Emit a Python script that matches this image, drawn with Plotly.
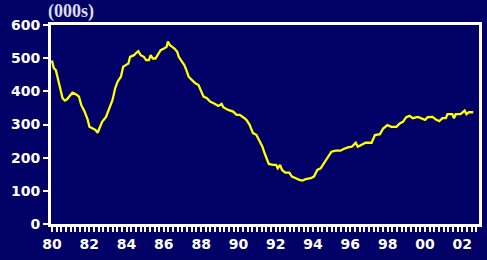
import plotly.graph_objects as go

# Decimal years and values (thousands)
years = [1980.00, 1980.10, 1980.21, 1980.33, 1980.46, 1980.57, 1980.69, 1980.81, 1980.95,
         1981.10, 1981.27, 1981.45, 1981.57, 1981.75, 1981.92, 1982.01, 1982.19, 1982.33,
         1982.45, 1982.55, 1982.69, 1982.90, 1983.08, 1983.25, 1983.39, 1983.52, 1983.70,
         1983.82, 1983.96, 1984.10, 1984.19, 1984.40, 1984.52, 1984.63, 1984.76, 1984.93,
         1985.05, 1985.20, 1985.29, 1985.41, 1985.55, 1985.69, 1985.83, 1986.01, 1986.15,
         1986.22, 1986.33, 1986.45, 1986.57, 1986.72, 1986.80, 1986.98, 1987.10, 1987.21,
         1987.33, 1987.51, 1987.69, 1987.86, 1987.99, 1988.13, 1988.31, 1988.48, 1988.75,
         1988.92, 1989.10, 1989.19, 1989.45, 1989.72, 1989.90, 1990.07, 1990.25, 1990.43,
         1990.60, 1990.78, 1990.96, 1991.13, 1991.28, 1991.40, 1991.52, 1991.63, 1991.84,
         1992.02, 1992.11, 1992.23, 1992.34, 1992.51, 1992.73, 1992.87, 1993.08, 1993.26,
         1993.43, 1993.61, 1993.88, 1994.05, 1994.23, 1994.41, 1994.58, 1994.76, 1994.99,
         1995.20, 1995.47, 1995.64, 1995.87, 1996.08, 1996.29, 1996.40, 1996.61, 1996.82,
         1997.14, 1997.32, 1997.59, 1997.76, 1997.99, 1998.20, 1998.47, 1998.65, 1998.82,
         1999.00, 1999.18, 1999.35, 1999.62, 1999.79, 2000.01, 2000.15, 2000.41, 2000.59,
         2000.77, 2000.94, 2001.12, 2001.21, 2001.47, 2001.56, 2001.65, 2001.91, 2002.13,
         2002.23, 2002.36, 2002.59]
values = [493, 470, 464, 434, 399, 379, 372, 376, 386,
          396, 392, 384, 359, 339, 314, 293, 288, 284,
          275, 288, 308, 323, 349, 374, 409, 429, 444,
          474, 479, 484, 504, 509, 516, 521, 509, 504,
          494, 494, 509, 499, 499, 512, 524, 529, 534,
          550, 539, 534, 529, 519, 504, 489, 479, 464,
          444, 434, 424, 419, 399, 384, 379, 369, 362,
          356, 362, 352, 344, 339, 329, 329, 322, 314,
          299, 274, 269, 249, 234, 214, 199, 181, 178,
          178, 168, 178, 163, 155, 155, 143, 138, 133,
          131, 135, 138, 143, 163, 168, 183, 199, 218,
          221, 221, 226, 231, 233, 245, 233, 238, 245,
          245, 268, 271, 288, 298, 293, 293, 303, 308,
          322, 326, 319, 323, 319, 314, 322, 323, 315,
          310, 319, 319, 331, 331, 319, 331, 331, 342,
          331, 337, 337]

xtick_vals = [1980, 1982, 1984, 1986, 1988, 1990, 1992, 1994, 1996, 1998, 2000, 2002]
xtick_text = ["80", "82", "84", "86", "88", "90", "92", "94", "96", "98", "00", "02"]
ytick_vals = [0, 100, 200, 300, 400, 500, 600]

BG = "#000066"
FONT = "DejaVu Sans"

fig = go.Figure()
fig.add_trace(go.Scatter(x=years, y=values, mode="lines",
                         line=dict(color="#FFFF00", width=2.3), hoverinfo="skip"))

fig.update_layout(
    width=487, height=260,
    margin=dict(l=51, r=5, t=25, b=36),
    paper_bgcolor=BG, plot_bgcolor=BG,
    showlegend=False,
    font=dict(family=FONT, color="white", size=14),
)
fig.update_xaxes(
    range=[1979.95, 2002.9],
    tickmode="array", tickvals=xtick_vals, ticktext=xtick_text,
    tickfont=dict(family=FONT, size=14, color="white", weight="bold"),
    ticks="outside", ticklen=5, tickwidth=2, tickcolor="white",
    minor=dict(dtick=0.25, tick0=1980, ticks="outside", ticklen=5, tickwidth=2, tickcolor="white"),
    showline=True, linecolor="white", linewidth=3, mirror=True,
    showgrid=False, zeroline=False,
)
fig.update_yaxes(
    range=[0, 600],
    tickmode="array", tickvals=ytick_vals,
    tickfont=dict(family=FONT, size=14, color="white", weight="bold"),
    ticks="outside", ticklen=5, tickwidth=2, tickcolor="white",
    showline=True, linecolor="white", linewidth=3, mirror=True,
    showgrid=False, zeroline=False,
)
fig.add_annotation(
    text="(000s)", xref="paper", yref="paper", x=0, y=1,
    xanchor="left", yanchor="bottom", xshift=-5, yshift=1, showarrow=False,
    font=dict(family="Liberation Serif", size=18, color="#DDDDEE", weight="bold"),
)

fig.write_html(
    "out.html",
    config={"displayModeBar": False},
    post_script="document.body.style.margin='0';document.body.style.background='#000066';",
)
